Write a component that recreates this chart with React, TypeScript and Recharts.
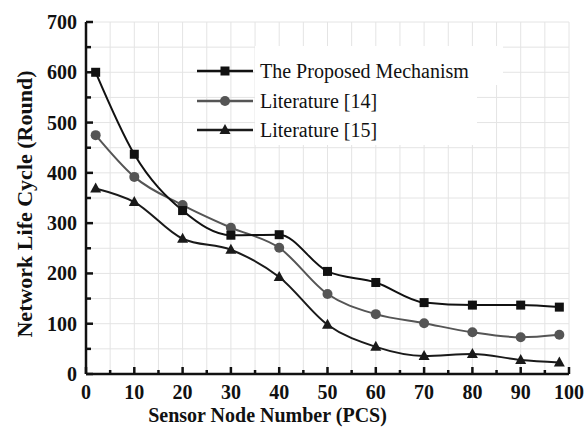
import React from 'react';
import { LineChart, Line, XAxis, YAxis, CartesianGrid } from 'recharts';

const nodeCounts = [2, 10, 20, 30, 40, 50, 60, 70, 80, 90, 98];
const proposed = [600, 437, 325, 276, 277, 204, 182, 142, 137, 137, 133];
const lit14 = [475, 392, 336, 291, 251, 159, 119, 101, 83, 73, 78];
const lit15 = [369, 342, 269, 247, 193, 98, 54, 36, 40, 28, 23];

const xTicks = [0, 5, 10, 15, 20, 25, 30, 35, 40, 45, 50, 55, 60, 65, 70, 75, 80, 85, 90, 95, 100];
const yTicks = [0, 50, 100, 150, 200, 250, 300, 350, 400, 450, 500, 550, 600, 650, 700];
const xMajor = [10, 20, 30, 40, 50, 60, 70, 80, 90];
const yMajor = [100, 200, 300, 400, 500, 600];

const seriesNames = ['The Proposed Mechanism', 'Literature [14]', 'Literature [15]'];
const xTitle = 'Sensor Node Number (PCS)';
const yTitle = 'Network Life Cycle (Round)';

const data = nodeCounts.map((x, i) => ({ x, p: proposed[i], l14: lit14[i], l15: lit15[i] }));

const SERIF = '"Liberation Serif", "Times New Roman", serif';
const tickFont: React.CSSProperties = { fontFamily: SERIF, fontWeight: 700, fontSize: 20, fill: '#111' };
const AX = '#111';

const BottomTick = (props: any) => {
  const { x, y, payload } = props;
  const v = payload.value;
  const major = v % 10 === 0;
  return (
    <g>
      <line x1={x} x2={x} y1={y} y2={y - (major ? 7 : 4)} stroke={AX} strokeWidth={2.5} />
      {major && (
        <text x={x} y={y + 25} textAnchor="middle" style={tickFont}>
          {v}
        </text>
      )}
    </g>
  );
};

const TopTick = (props: any) => {
  const { x, y, payload } = props;
  const major = payload.value % 10 === 0;
  return <line x1={x} x2={x} y1={y} y2={y + (major ? 8 : 5)} stroke={AX} strokeWidth={2.5} />;
};

const LeftTick = (props: any) => {
  const { x, y, payload } = props;
  const v = payload.value;
  const major = v % 100 === 0;
  return (
    <g>
      <line x1={x} x2={x + (major ? 7 : 5)} y1={y} y2={y} stroke={AX} strokeWidth={2.5} />
      {major && (
        <text x={x - 9} y={y + 7} textAnchor="end" style={tickFont}>
          {v}
        </text>
      )}
    </g>
  );
};

const RightTick = (props: any) => {
  const { x, y, payload } = props;
  const major = payload.value % 100 === 0;
  return <line x1={x} x2={x - (major ? 7 : 5)} y1={y} y2={y} stroke={AX} strokeWidth={2.5} />;
};

const Square = (props: any) => {
  const { cx, cy, fill, index } = props;
  if (cx == null || cy == null) return <g key={index} />;
  return <rect key={index} x={cx - 4.5} y={cy - 4.5} width={9} height={9} fill={fill} />;
};
const Circle = (props: any) => {
  const { cx, cy, fill, index } = props;
  if (cx == null || cy == null) return <g key={index} />;
  return <circle key={index} cx={cx} cy={cy} r={5} fill={fill} />;
};
const Tri = (props: any) => {
  const { cx, cy, fill, index } = props;
  if (cx == null || cy == null) return <g key={index} />;
  return <path key={index} d={`M${cx},${cy - 6} L${cx + 5.5},${cy + 4} L${cx - 5.5},${cy + 4} Z`} fill={fill} />;
};

const C_P = '#111111';
const C_14 = '#555555';
const C_15 = '#1a1a1a';

const majorV = (p: any) => {
  const s = p && p.xAxis && p.xAxis.scale;
  if (typeof s !== 'function') return [];
  return xMajor.map((v) => s(v)).filter((v: any) => typeof v === 'number' && isFinite(v));
};
const majorH = (p: any) => {
  const s = p && p.yAxis && p.yAxis.scale;
  if (typeof s !== 'function') return [];
  return yMajor.map((v) => s(v)).filter((v: any) => typeof v === 'number' && isFinite(v));
};

const LegendSym = ({ kind, color }: { kind: string; color: string }) => (
  <svg width={58} height={30} style={{ display: 'block' }}>
    <line x1={0} x2={56} y1={15} y2={15} stroke={color} strokeWidth={2.5} />
    {kind === 'sq' && <rect x={23.5} y={10.5} width={9} height={9} fill={color} />}
    {kind === 'ci' && <circle cx={28} cy={15} r={5} fill={color} />}
    {kind === 'tr' && <path d="M28,9 L33.5,19 L22.5,19 Z" fill={color} />}
  </svg>
);

export default function App() {
  const rows = [
    { name: seriesNames[0], kind: 'sq', color: C_P, cy: 71 },
    { name: seriesNames[1], kind: 'ci', color: C_14, cy: 101 },
    { name: seriesNames[2], kind: 'tr', color: C_15, cy: 130 },
  ];
  return (
    <div style={{ position: 'absolute', left: 0, top: 0, width: 586, height: 432, background: '#fff' }}>
      <LineChart width={586} height={432} data={data} margin={{ top: 22, right: 17, bottom: 0, left: 0 }}>
        <CartesianGrid stroke="#e4e4e4" strokeWidth={1} />
        <CartesianGrid
          stroke="#cdcdcd"
          strokeWidth={1}
          verticalCoordinatesGenerator={majorV}
          horizontalCoordinatesGenerator={majorH}
        />
        <XAxis
          dataKey="x"
          type="number"
          domain={[0, 100]}
          ticks={xTicks}
          interval={0}
          height={58}
          tickSize={0}
          tickMargin={0}
          tick={<BottomTick />}
          axisLine={{ stroke: AX, strokeWidth: 2.5 }}
          tickLine={false}
        />
        <XAxis
          xAxisId="top"
          orientation="top"
          dataKey="x"
          type="number"
          domain={[0, 100]}
          ticks={xTicks}
          interval={0}
          height={0}
          tickSize={0}
          tickMargin={0}
          tick={<TopTick />}
          axisLine={{ stroke: AX, strokeWidth: 2.5 }}
          tickLine={false}
        />
        <YAxis
          type="number"
          domain={[0, 700]}
          ticks={yTicks}
          interval={0}
          width={86}
          tickSize={0}
          tickMargin={0}
          tick={<LeftTick />}
          axisLine={{ stroke: AX, strokeWidth: 2.5 }}
          tickLine={false}
        />
        <YAxis
          yAxisId="right"
          orientation="right"
          type="number"
          domain={[0, 700]}
          ticks={yTicks}
          interval={0}
          width={0}
          tickSize={0}
          tickMargin={0}
          tick={<RightTick />}
          axisLine={{ stroke: AX, strokeWidth: 2.5 }}
          tickLine={false}
        />
        <Line type="monotone" dataKey="l15" name={seriesNames[2]} stroke={C_15} strokeWidth={2} fill={C_15} dot={<Tri />} isAnimationActive={false} />
        <Line type="monotone" dataKey="l14" name={seriesNames[1]} stroke={C_14} strokeWidth={2} fill={C_14} dot={<Circle />} isAnimationActive={false} />
        <Line type="monotone" dataKey="p" name={seriesNames[0]} stroke={C_P} strokeWidth={2} fill={C_P} dot={<Square />} isAnimationActive={false} />
      </LineChart>

      <div style={{ position: 'absolute', left: 255, top: 46, width: 248, height: 39, background: '#fff' }} />
      <div style={{ position: 'absolute', left: 255, top: 85, width: 222, height: 60, background: '#fff' }} />
      {rows.map((r) => (
        <div
          key={r.name}
          style={{ position: 'absolute', left: 197, top: r.cy - 15, height: 30, display: 'flex', alignItems: 'center' }}
        >
          <LegendSym kind={r.kind} color={r.color} />
          <span style={{ marginLeft: 5, fontFamily: SERIF, fontSize: 20, color: '#111', lineHeight: '30px', whiteSpace: 'nowrap' }}>
            {r.name}
          </span>
        </div>
      ))}

      <svg width={586} height={432} style={{ position: 'absolute', left: 0, top: 0, pointerEvents: 'none' }}>
        <text x={267.5} y={422} textAnchor="middle" style={{ fontFamily: SERIF, fontWeight: 700, fontSize: 20, fill: '#111' }}>
          {xTitle}
        </text>
        <text
          transform="translate(32,204) rotate(-90)"
          textAnchor="middle"
          style={{ fontFamily: SERIF, fontWeight: 700, fontSize: 22, fill: '#111' }}
        >
          {yTitle}
        </text>
      </svg>
    </div>
  );
}
